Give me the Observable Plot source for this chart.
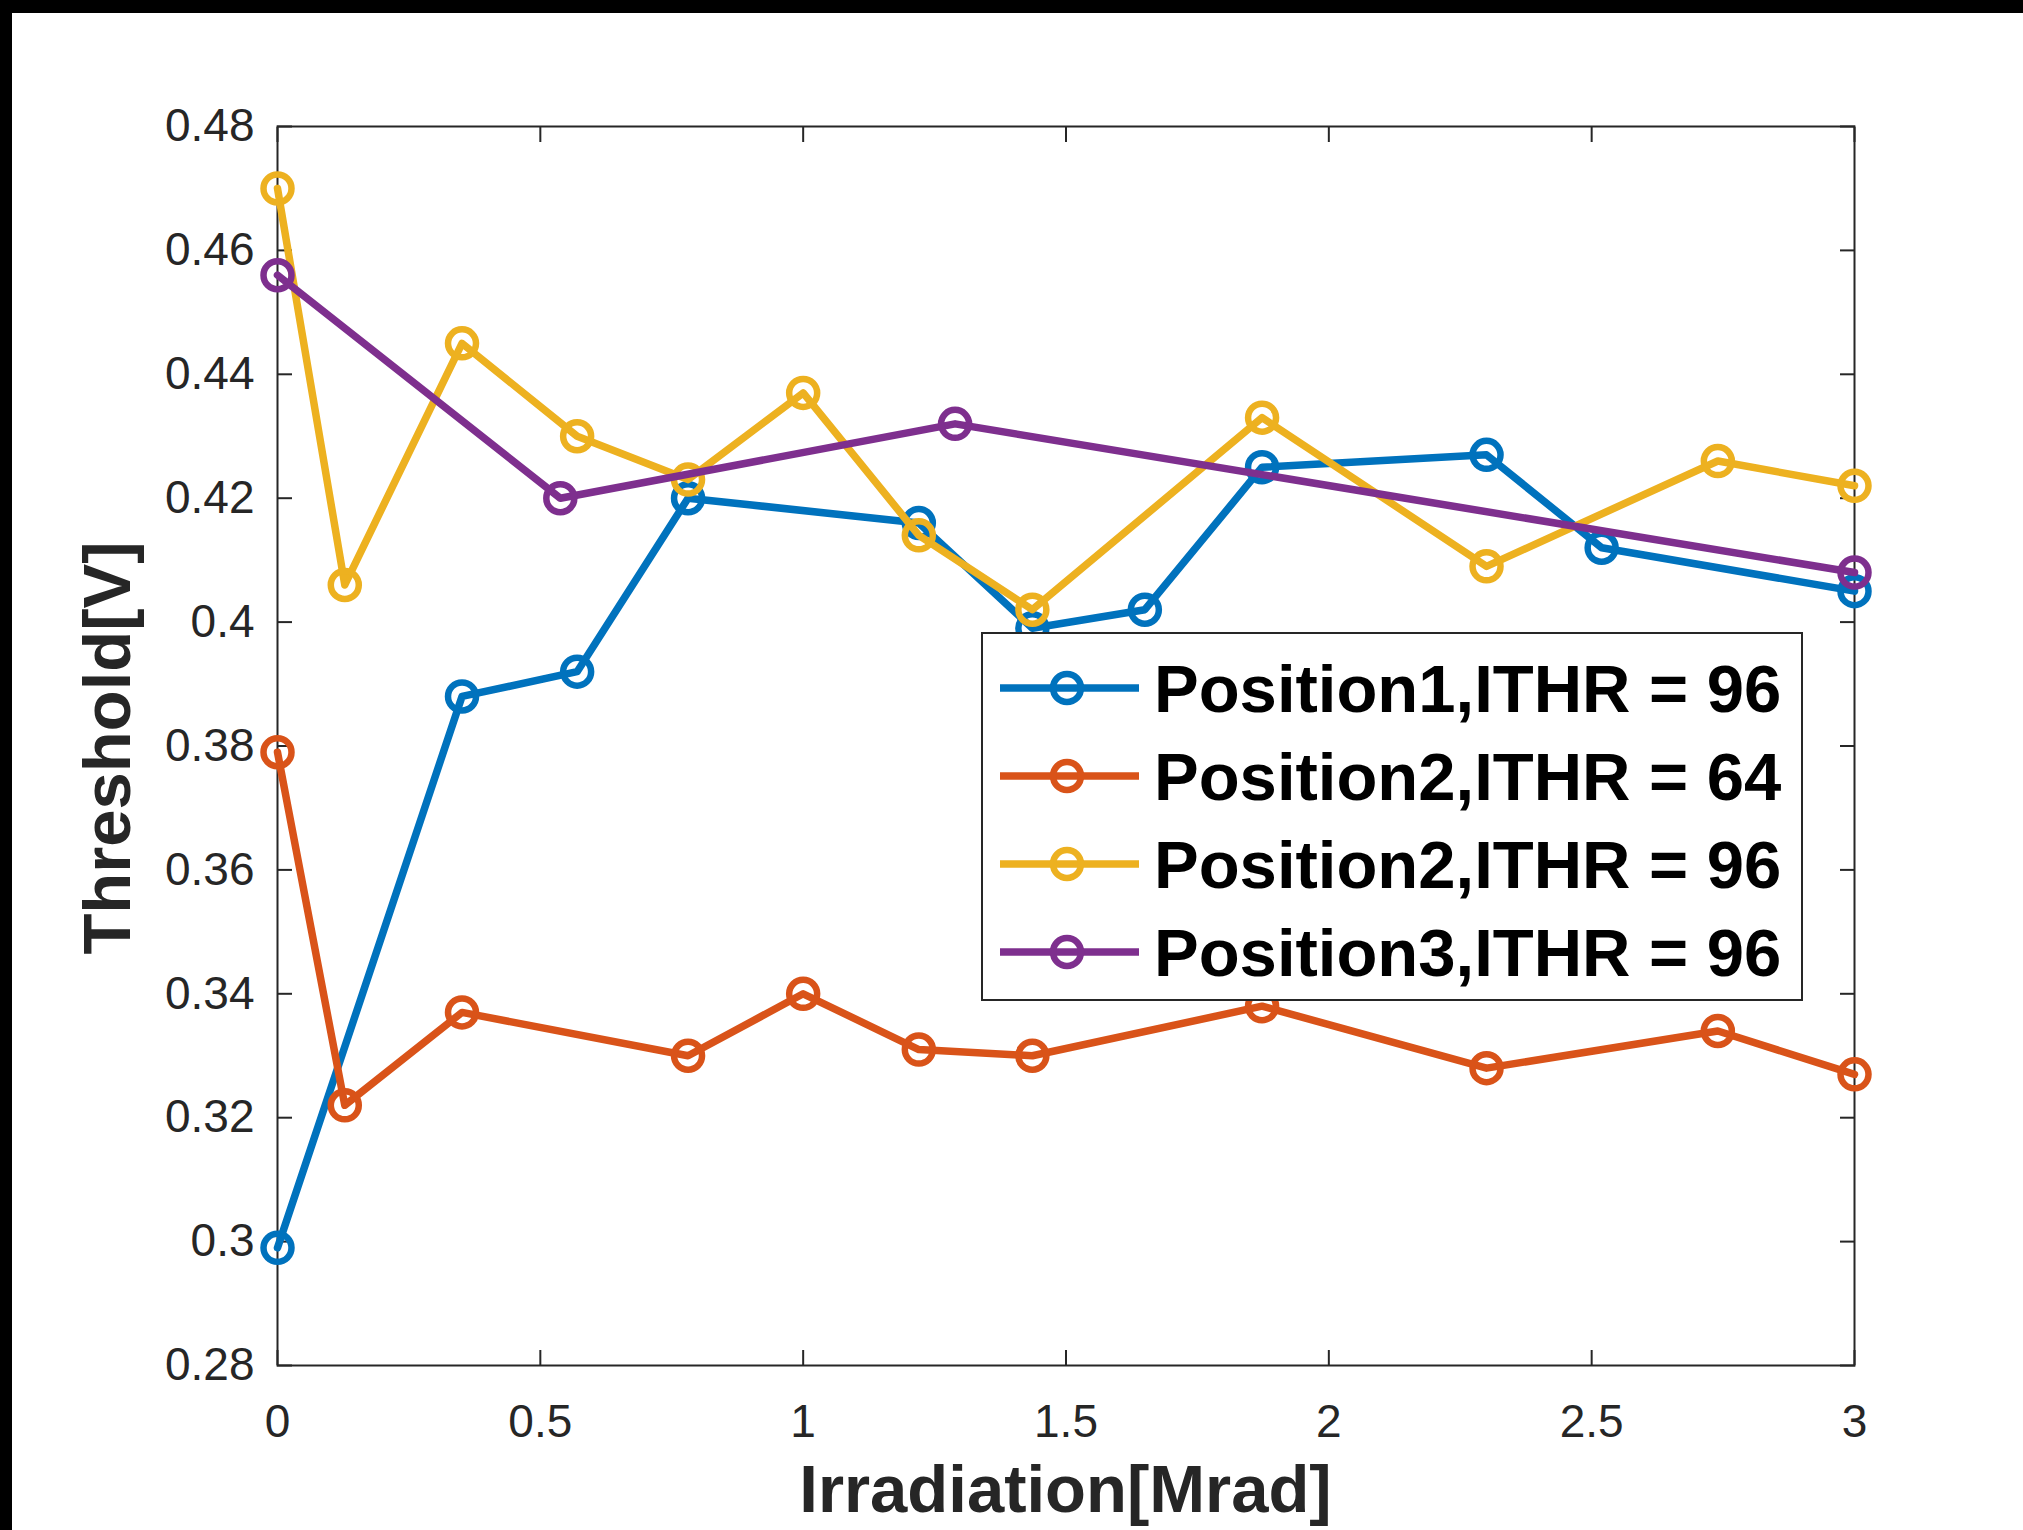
<!DOCTYPE html>
<html>
<head>
<meta charset="utf-8">
<script src="https://cdn.jsdelivr.net/npm/d3@7"></script>
<script src="https://cdn.jsdelivr.net/npm/@observablehq/plot@0.6"></script>
<style>
  html, body { margin: 0; padding: 0; background: #000; width: 2023px; height: 1530px; overflow: hidden; }
  #wrap { position: absolute; left: 12px; top: 13px; width: 2011px; height: 1517px; background: #fff; }
</style>
</head>
<body>
<div id="wrap"></div>
<script>
// ---- Data ----
const seriesNames = ["Position1,ITHR = 96", "Position2,ITHR = 64", "Position2,ITHR = 96", "Position3,ITHR = 96"];
const seriesColors = ["#0072BD", "#D95319", "#EDB120", "#7E2F8E"];

const p1X = [0, 0.351, 0.570, 0.781, 1.220, 1.436, 1.650, 1.873, 2.300, 2.519, 3];
const p1Y = [0.299, 0.388, 0.392, 0.420, 0.416, 0.399, 0.402, 0.425, 0.427, 0.412, 0.405];

const p2lowX = [0, 0.128, 0.351, 0.781, 1.0, 1.220, 1.436, 1.873, 2.300, 2.740, 3];
const p2lowY = [0.379, 0.322, 0.337, 0.330, 0.340, 0.331, 0.330, 0.338, 0.328, 0.334, 0.327];

const p2X = [0, 0.128, 0.351, 0.570, 0.781, 1.0, 1.220, 1.436, 1.873, 2.300, 2.740, 3];
const p2Y = [0.470, 0.406, 0.445, 0.430, 0.423, 0.437, 0.414, 0.402, 0.433, 0.409, 0.426, 0.422];

const p3X = [0, 0.538, 1.289, 3];
const p3Y = [0.456, 0.420, 0.432, 0.408];

const xTicks = [0, 0.5, 1, 1.5, 2, 2.5, 3];
const xTickLabels = ["0", "0.5", "1", "1.5", "2", "2.5", "3"];
const yTicks = [0.28, 0.30, 0.32, 0.34, 0.36, 0.38, 0.40, 0.42, 0.44, 0.46, 0.48];
const yTickLabels = ["0.28", "0.3", "0.32", "0.34", "0.36", "0.38", "0.4", "0.42", "0.44", "0.46", "0.48"];

const xLabel = "Irradiation[Mrad]";
const yLabel = "Threshold[V]";

// ---- Build table ----
const seriesXs = [p1X, p2lowX, p2X, p3X];
const seriesYs = [p1Y, p2lowY, p2Y, p3Y];
const rows = [];
seriesNames.forEach((name, k) => {
  seriesXs[k].forEach((x, i) => rows.push({series: name, k, x, y: seriesYs[k][i]}));
});

const xFmt = new Map(xTicks.map((t, i) => [t, xTickLabels[i]]));
const yFmt = new Map(yTicks.map((t, i) => [t, yTickLabels[i]]));

const axisColor = "#262626";
const font = "'Liberation Sans', Arial, Helvetica, sans-serif";

const dataMarks = [];
seriesNames.forEach((name, k) => {
  const d = rows.filter(r => r.k === k);
  dataMarks.push(Plot.line(d, {x: "x", y: "y", stroke: seriesColors[k], strokeWidth: 7.5}));
  dataMarks.push(Plot.dot(d, {x: "x", y: "y", r: 14, stroke: seriesColors[k], strokeWidth: 6.5, fill: "none"}));
});

const W = 2011, H = 1517;
const chart = Plot.plot({
  width: W,
  height: H,
  marginLeft: 265,
  marginRight: 169,
  marginTop: 113,
  marginBottom: 165,
  style: {fontFamily: font, fontSize: "46px", color: axisColor, background: "#fff"},
  x: {domain: [0, 3], label: null},
  y: {domain: [0.28, 0.48], label: null},
  marks: [
    Plot.axisX({anchor: "bottom", ticks: xTicks, tickFormat: d => xFmt.get(d), tickSize: -15, tickPadding: 54,
                label: null, fill: axisColor, stroke: axisColor, strokeWidth: 2, fontSize: 46}),
    Plot.axisX({anchor: "top", ticks: xTicks, tickSize: -15, fill: "none", label: null, stroke: axisColor, strokeWidth: 2}),
    Plot.axisY({anchor: "left", ticks: yTicks, tickFormat: d => yFmt.get(d), tickSize: -15, tickPadding: 38,
                label: null, fill: axisColor, stroke: axisColor, strokeWidth: 2, fontSize: 46}),
    Plot.axisY({anchor: "right", ticks: yTicks, tickSize: -15, fill: "none", label: null, stroke: axisColor, strokeWidth: 2}),
    Plot.frame({stroke: axisColor, strokeWidth: 2}),
    ...dataMarks
  ]
});
document.getElementById("wrap").appendChild(chart);

// ---- Axis titles ----
const svg = d3.select(chart);
svg.append("text")
  .attr("x", 1053.5).attr("y", 1499)
  .attr("text-anchor", "middle")
  .attr("font-family", font).attr("font-weight", "bold").attr("font-size", 67)
  .attr("fill", axisColor)
  .text(xLabel);
svg.append("text")
  .attr("transform", "translate(118,735) rotate(-90)")
  .attr("text-anchor", "middle")
  .attr("font-family", font).attr("font-weight", "bold").attr("font-size", 67)
  .attr("fill", axisColor)
  .text(yLabel);

// ---- Legend (overlay box) ----
const lg = d3.select("body").append("svg")
  .attr("width", 823).attr("height", 370)
  .style("position", "absolute").style("left", "981px").style("top", "632px");
lg.append("rect").attr("x", 1).attr("y", 1).attr("width", 820).attr("height", 367)
  .attr("fill", "#fff").attr("stroke", axisColor).attr("stroke-width", 2);
seriesNames.forEach((name, i) => {
  const cy = 56 + i * 88;
  lg.append("line").attr("x1", 19).attr("x2", 158).attr("y1", cy).attr("y2", cy)
    .attr("stroke", seriesColors[i]).attr("stroke-width", 7.5);
  lg.append("circle").attr("cx", 86).attr("cy", cy).attr("r", 14)
    .attr("fill", "none").attr("stroke", seriesColors[i]).attr("stroke-width", 6.5);
  lg.append("text").attr("x", 173).attr("y", cy).attr("dy", "0.36em")
    .attr("font-family", font).attr("font-weight", "bold").attr("font-size", 67)
    .attr("fill", "#000").text(name);
});
</script>
</body>
</html>
